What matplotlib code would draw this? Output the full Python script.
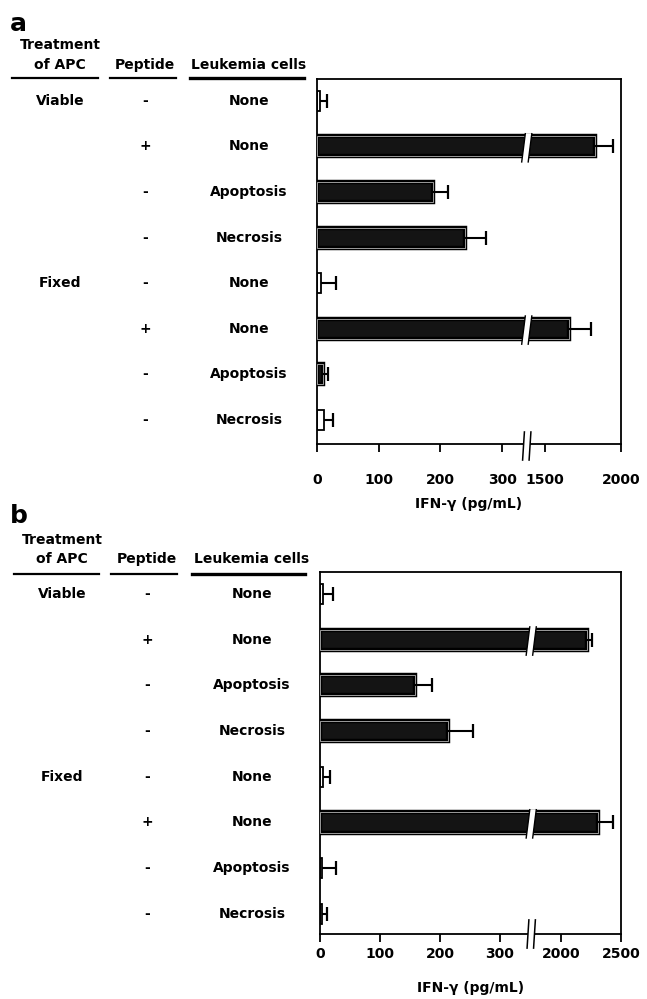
import numpy as np
import matplotlib
matplotlib.use("Agg")
import matplotlib.pyplot as plt
from matplotlib import transforms
from matplotlib.patches import Polygon, Rectangle
from matplotlib.lines import Line2D

# ---------------- data ----------------
treatment = ["Viable", "", "", "", "Fixed", "", "", ""]
peptide = ["-", "+", "-", "-", "-", "+", "-", "-"]
leukemia = ["None", "None", "Apoptosis", "Necrosis", "None", "None", "Apoptosis", "Necrosis"]

a_values = [5, 1830, 188, 240, 7, 1655, 9, 12]
a_errors = [12, 120, 24, 34, 24, 150, 9, 14]
a_filled = [False, True, True, True, False, True, True, False]
a_ticks = [0, 100, 200, 300, 1500, 2000]

b_values = [5, 2215, 158, 213, 5, 2310, 3, 4]
b_errors = [16, 40, 29, 42, 12, 125, 24, 8]
b_filled = [False, True, True, True, False, True, False, False]
b_ticks = [0, 100, 200, 300, 2000, 2500]

xlabel = "IFN-γ (pg/mL)"

# ---------------- figure ----------------
W, H = 647, 999
plt.rcParams["font.family"] = ["DejaVu Sans"]
plt.rcParams["font.weight"] = "bold"
fig = plt.figure(figsize=(W / 100, H / 100), dpi=100)


def fx(x):
    return x / W


def fy(y):
    return 1 - y / H


def piecewise(B, C, k, eps=1e-3):
    def fwd(x):
        x = np.asarray(x, dtype=float)
        return np.where(x <= B, x,
                        np.where(x >= C, B + eps + (x - C) * k,
                                 B + (x - B) * eps / (C - B)))

    def inv(y):
        y = np.asarray(y, dtype=float)
        return np.where(y <= B, y,
                        np.where(y >= B + eps, C + (y - B - eps) / k,
                                 B + (y - B) * (C - B) / eps))
    return fwd, inv


def panel(box, values, errors, filled, ticks, B, C, k, xmax, ylim,
          letter, letter_y, head_y1, head_y2, under_y, spans, cols,
          tick_pad, label_pad, brk_dy):
    L, R, T, Bt = box
    ax = fig.add_axes([fx(L), fy(Bt), fx(R - L), (Bt - T) / H])
    fwd, inv = piecewise(B, C, k)
    ax.set_xscale("function", functions=(fwd, inv))
    ax.set_xlim(0, xmax)
    ax.set_ylim(*ylim)
    y = np.arange(len(values))
    h = 0.44
    vals = np.array(values, float)
    errs = np.array(errors, float)
    for i in range(len(values)):
        if filled[i]:
            ax.barh(y[i], vals[i], height=h, color="#141414", edgecolor="black",
                    linewidth=3.2, zorder=2)
            ax.barh(y[i], vals[i], height=h, color="none", edgecolor="#b4b4b4",
                    linewidth=0.6, zorder=3)
        else:
            ax.barh(y[i], vals[i], height=h, color="white", edgecolor="black",
                    linewidth=1.3, zorder=2)
    ax.hlines(y, vals, vals + errs, color="black", linewidth=1.5, zorder=3)
    ax.plot(vals + errs, y, linestyle="none", marker="|", markersize=9.5,
            markeredgewidth=1.6, color="black", zorder=3)

    axw = R - L
    xb = B / float(fwd(xmax))
    g = 6.5 / axw
    s = 1.8 / axw
    tb = transforms.blended_transform_factory(ax.transAxes, ax.transData)
    for i in range(len(values)):
        if vals[i] > B:
            yt = y[i] - h / 2 - 0.06
            yb = y[i] + h / 2 + 0.12
            ax.add_patch(Polygon([(xb - g / 2 + s, yt), (xb + g / 2 + s, yt),
                                  (xb + g / 2 - s, yb), (xb - g / 2 - s, yb)],
                                 closed=True, facecolor="white", edgecolor="none",
                                 transform=tb, zorder=4))
            for dx in (-g / 2, g / 2):
                ax.plot([xb + dx + s, xb + dx - s], [yt, yb], color="black",
                        linewidth=1.0, transform=tb, zorder=5)
    # axis break on the bottom spine
    dy1, dy2 = brk_dy
    ax.add_patch(Rectangle((xb - g / 2, -dy2), g, dy1 + dy2, facecolor="white",
                           edgecolor="none", transform=ax.transAxes,
                           clip_on=False, zorder=6))
    for dx in (-g / 2, g / 2):
        ax.plot([xb + dx + s * 0.5, xb + dx - s * 0.5], [dy1, -dy2], color="black",
                linewidth=1.1, transform=ax.transAxes, clip_on=False, zorder=7)

    for sp in ax.spines.values():
        sp.set_linewidth(1.3)
    ax.set_yticks([])
    ax.set_xticks(ticks)
    ax.set_xticklabels([str(t) for t in ticks])
    ax.tick_params(axis="x", direction="out", length=6, width=1.3,
                   pad=tick_pad, labelsize=10)
    ax.set_xlabel(xlabel, fontsize=10, fontweight="bold", labelpad=label_pad)

    # left-hand table
    fig.text(fx(10), fy(letter_y), letter, fontsize=18, fontweight="bold",
             ha="left", va="center")
    fig.text(fx(cols[0]), fy(head_y1), "Treatment", fontsize=10, fontweight="bold",
             ha="center", va="center")
    fig.text(fx(cols[0]), fy(head_y2), "of APC", fontsize=10, fontweight="bold",
             ha="center", va="center")
    fig.text(fx(cols[1]), fy(head_y2), "Peptide", fontsize=10, fontweight="bold",
             ha="center", va="center")
    fig.text(fx(cols[2]), fy(head_y2), "Leukemia cells", fontsize=10,
             fontweight="bold", ha="center", va="center")
    for (x0, x1), lw in zip(spans, (1.6, 1.6, 2.4)):
        fig.add_artist(Line2D([fx(x0), fx(x1)], [fy(under_y), fy(under_y)],
                              color="black", linewidth=lw))
    tr = transforms.blended_transform_factory(fig.transFigure, ax.transData)
    for i in range(len(values)):
        for col, txt in zip(cols, (treatment[i], peptide[i], leukemia[i])):
            if txt:
                ax.text(fx(col), y[i], txt, transform=tr, fontsize=10,
                        fontweight="bold", ha="center", va="center", clip_on=False)
    return ax


panel((317, 621, 79, 444), a_values, a_errors, a_filled, a_ticks,
      340, 1380, 0.2464, 2000, (7.53, -0.48),
      "a", 24, 45, 65, 78, [(12, 98), (110, 176), (190, 304)], (60, 145, 249),
      tick_pad=15, label_pad=7, brk_dy=(0.033, 0.044))

panel((320, 621, 572, 934), b_values, b_errors, b_filled, b_ticks,
      352, 1752, 0.2, 2500, (7.44, -0.48),
      "b", 516, 540, 559, 574, [(14, 99), (111, 177), (192, 305)], (62, 147, 252),
      tick_pad=3, label_pad=15, brk_dy=(0.039, 0.039))

fig.savefig("out.png", dpi=100)
